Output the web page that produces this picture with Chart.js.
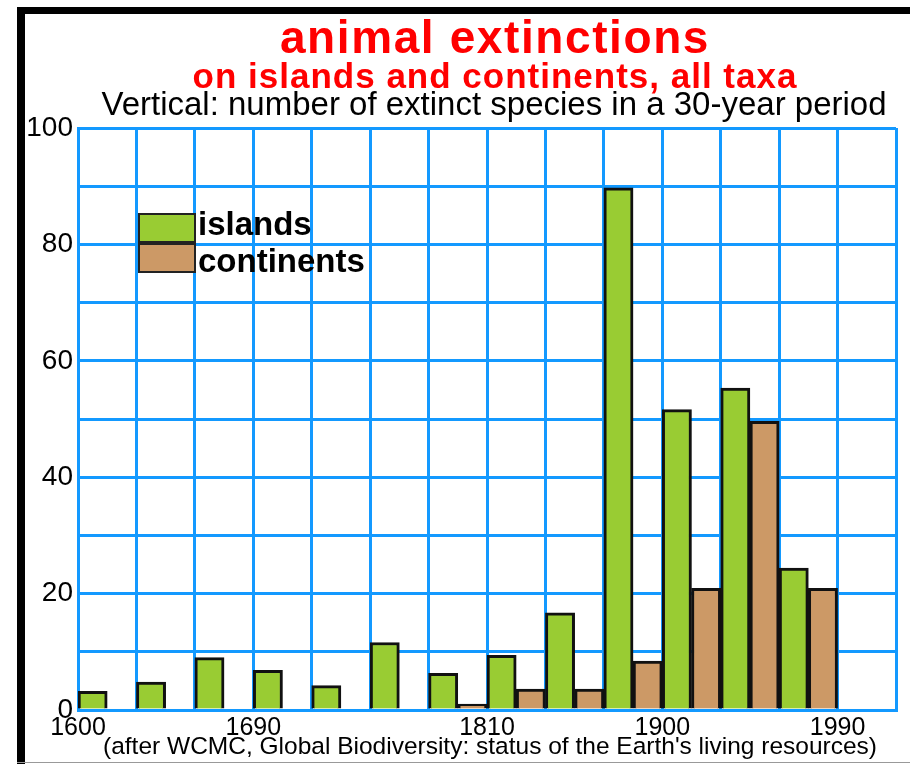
<!DOCTYPE html>
<html>
<head>
<meta charset="utf-8">
<script src="https://cdn.jsdelivr.net/npm/chart.js@4"></script>
<style>
  html, body { margin:0; padding:0; background:#fff; }
  body { width:910px; height:764px; position:relative; overflow:hidden; font-family:"Liberation Sans", Arial, sans-serif; }
  #frameL { position:absolute; left:17px; top:7px; width:8px; height:757px; background:#000; }
  #frameT { position:absolute; left:17px; top:7px; width:893px; height:7px; background:#000; }
  #frameB { position:absolute; left:17px; top:762px; width:893px; height:1px; background:#999; }
  .t { position:absolute; left:0; width:990px; text-align:center; white-space:nowrap; }
  #t1 { top:10px; font-size:46px; font-weight:bold; color:#ff0000; letter-spacing:1.6px; }
  #t2 { top:56px; font-size:35px; font-weight:bold; color:#ff0000; letter-spacing:1px; }
  #t3 { top:85px; font-size:33px; color:#000; width:988px; }
  #foot { top:732px; font-size:24.5px; color:#000; width:980px; }
  canvas { position:absolute; left:0; top:0; }
</style>
</head>
<body>
<div id="frameL"></div>
<div id="frameT"></div>
<div id="frameB"></div>
<canvas id="c" width="910" height="764"></canvas>
<div class="t" id="t1">animal extinctions</div>
<div class="t" id="t2">on islands and continents, all taxa</div>
<div class="t" id="t3">Vertical: number of extinct species in a 30-year period</div>
<div class="t" id="foot">(after WCMC, Global Biodiversity: status of the Earth's living resources)</div>
<script>
// 30-year periods (start year)
const periods = ['1600','1630','1660','1690','1720','1750','1780','1810','1840','1870','1900','1930','1960','1990'];
const islands = [3.2, 4.8, 9.0, 6.8, 4.2, 11.6, 6.3, 9.4, 16.7, 89.7, 51.6, 55.3, 24.4, null];
const continents = [null, null, null, null, null, null, 1.0, 3.6, 3.6, 8.4, 20.9, 49.6, 20.9, null];
const yearTicks = [1600, 1690, 1810, 1900, 1990];
const yearMin = 1600, yearMax = 2020;
const yTickStep = 10, yLabelStep = 20, yMax = 100;

const GRID = '#1399ff';

const insideLegend = {
  id: 'insideLegend',
  afterDraw(chart) {
    const ctx = chart.ctx, a = chart.chartArea;
    const x0 = a.left + 60, y0 = a.top + 85, w = 58, h = 30;
    chart.data.datasets.forEach((ds, i) => {
      const y = y0 + i * h;
      ctx.save();
      ctx.fillStyle = ds.backgroundColor;
      ctx.fillRect(x0, y, w, h);
      ctx.strokeStyle = '#222';
      ctx.lineWidth = 2;
      ctx.strokeRect(x0 + 1, y + 1, w - 2, h - 2);
      ctx.fillStyle = '#000';
      ctx.font = 'bold 33px "Liberation Sans", Arial, sans-serif';
      ctx.textBaseline = 'alphabetic';
      ctx.fillText(ds.label, x0 + w + 2, y0 + 22 + i * 37);
      ctx.restore();
    });
  }
};

new Chart(document.getElementById('c'), {
  type: 'bar',
  data: {
    labels: periods,
    datasets: [
      { label: 'islands', data: islands, backgroundColor: '#99cc33', borderColor: '#111', borderWidth: 3, borderSkipped: 'bottom' },
      { label: 'continents', data: continents, backgroundColor: '#cc9966', borderColor: '#111', borderWidth: 3, borderSkipped: 'bottom' }
    ]
  },
  options: {
    responsive: false,
    animation: false,
    layout: { padding: { left: 0, top: 128, right: 14, bottom: 0 } },
    plugins: { legend: { display: false }, tooltip: { enabled: false }, title: { display: false } },
    datasets: { bar: { barPercentage: 1, categoryPercentage: 1 } },
    scales: {
      x: {
        type: 'category',
        position: 'bottom',
        offset: true,
        grid: { display: true, offset: true, color: GRID, lineWidth: 3, drawTicks: false },
        border: { display: true, color: GRID, width: 3 },
        ticks: { display: false },
        afterFit(s) { s.height = 0; }
      },
      x2: {
        type: 'linear',
        position: 'bottom',
        offset: false,
        min: yearMin, max: yearMax,
        grid: { display: false, offset: false, drawTicks: false },
        border: { display: false },
        afterBuildTicks(s) { s.ticks = yearTicks.map(v => ({ value: v })); },
        ticks: {
          autoSkip: false, maxRotation: 0, padding: 3,
          color: '#000',
          font: { family: '"Liberation Sans", Arial, sans-serif', size: 25 },
          callback: v => String(v)
        },
        afterFit(s) { s.height = 54; }
      },
      y: {
        type: 'linear',
        min: 0, max: yMax,
        grid: { color: GRID, lineWidth: 3, drawTicks: false },
        border: { display: true, color: GRID, width: 3 },
        ticks: {
          stepSize: yTickStep, padding: 5, color: '#000',
          font: { family: '"Liberation Sans", Arial, sans-serif', size: 28 },
          callback: v => (v % yLabelStep === 0 ? String(v) : '')
        },
        afterFit(s) { s.width = 78; }
      }
    }
  },
  plugins: [insideLegend]
});
</script>
</body>
</html>
